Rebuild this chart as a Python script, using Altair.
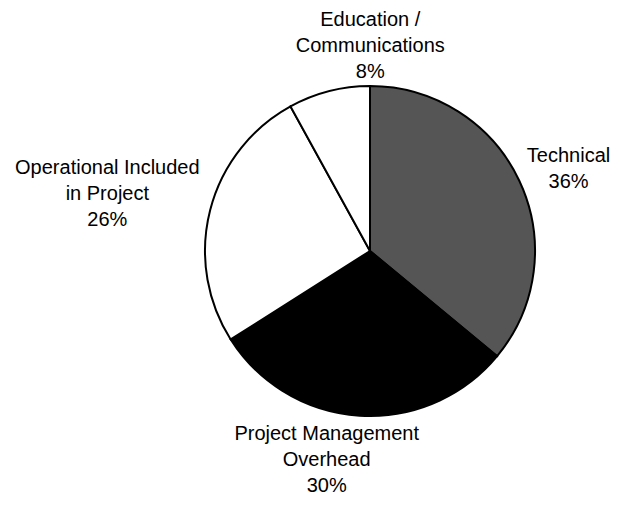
import altair as alt
import pandas as pd

categories = [
    "Technical",
    "Project Management Overhead",
    "Operational Included in Project",
    "Education / Communications",
]
values = [36, 30, 26, 8]
label_lines = [
    ["Technical", "36%"],
    ["Project Management", "Overhead", "30%"],
    ["Operational Included", "in Project", "26%"],
    ["Education /", "Communications", "8%"],
]

df = pd.DataFrame({
    "category": categories,
    "value": values,
    "order": list(range(len(categories))),
    "label": ["\n".join(l) for l in label_lines],
})

colors = ["#555555", "#000000", "#ffffff", "#ffffff"]

base = alt.Chart(df).encode(
    theta=alt.Theta("value:Q", stack=True),
    order=alt.Order("order:Q", sort="ascending"),
)

pie = base.mark_arc(stroke="black", strokeWidth=2).encode(
    color=alt.Color("category:N", scale=alt.Scale(domain=categories, range=colors), legend=None)
)

placement = [
    dict(radius=215, dx=4, dy=-3),
    dict(radius=212, dx=-30, dy=-29),
    dict(radius=265, dx=-6, dy=-17.5),
    dict(radius=208, dx=52, dy=-30),
]

layers = [pie]
for cat, p in zip(categories, placement):
    layers.append(
        base.mark_text(
            font="Liberation Sans", fontSize=20, lineHeight=26, lineBreak="\n",
            color="black", align="center", baseline="middle", **p
        ).encode(
            text=alt.condition(f"datum.category === '{cat}'", alt.Text("label:N"), alt.value(""))
        )
    )

chart = alt.layer(*layers).properties(
    width=330, height=330,
    autosize=alt.AutoSizeParams(type="none"),
    padding={"left": 197, "top": 78, "right": 77, "bottom": 81},
).configure_view(stroke=None)

chart.save("out.html", embed_options={"renderer": "svg", "actions": False})
